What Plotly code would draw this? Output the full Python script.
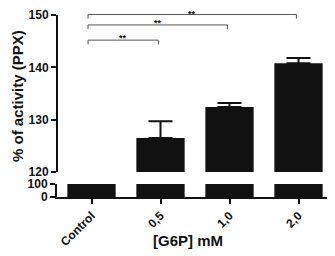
import plotly.graph_objects as go

categories = ["Control", "0,5", "1,0", "2,0"]
activity = [100, 126.5, 132.4, 140.8]
sem = [0, 3.2, 0.8, 1.0]
lower_ticks = [0, 100]
upper_ticks = [120, 130, 140, 150]
comparisons = [("Control", "0,5"), ("Control", "1,0"), ("Control", "2,0")]
bracket_levels = [145.2, 148.1, 150.1]
sig_labels = ["**", "**", "**"]

FONT = "Liberation Sans"
INK = "#111111"

# page has an 8px body margin; figure coordinates = page - 8
W, H = 327, 248
L, R, T, B = 49, 2, 0, 59
PH = H - T - B  # 189
PW = W - L - R  # 276
px_per_unit = 5.233
y2_bottom_px = 164  # figure px of value 120
y2_top = 120 + y2_bottom_px / px_per_unit

fig = go.Figure()
fig.add_trace(go.Bar(x=categories, y=activity, xaxis="x", yaxis="y",
                     marker=dict(color=INK, line=dict(width=0)), width=0.7,
                     showlegend=False))
fig.add_trace(go.Bar(x=categories, y=activity, xaxis="x", yaxis="y2",
                     marker=dict(color=INK, line=dict(width=0)), width=0.7,
                     error_y=dict(type="data", array=sem, arrayminus=[0]*len(sem),
                                  symmetric=False, color=INK, thickness=2, width=12),
                     showlegend=False))

shapes = []
annotations = []
shapes.append(dict(type="line", xref="paper", yref="y2", x0=0, x1=0,
                   y0=upper_ticks[0], y1=upper_ticks[-1],
                   line=dict(color=INK, width=2)))
idx = {c: i for i, c in enumerate(categories)}
n = len(comparisons)
for k, ((a, b), lvl, lab) in enumerate(zip(comparisons, bracket_levels, sig_labels)):
    xa, xb = idx[a] - 0.05, idx[b] - 0.03
    drop = 0.8
    shapes.append(dict(type="path", xref="x", yref="y2",
                       path=f"M {xa},{lvl-drop} L {xa},{lvl} L {xb},{lvl} L {xb},{lvl-drop}",
                       line=dict(color="#555555", width=1)))
    star_font = dict(family=FONT, size=9, color=INK, weight="bold")
    if k == n - 1:
        # topmost label: anchor to the top edge so it stays inside the figure
        annotations.append(dict(x=(xa + xb) / 2, y=y2_top, xref="x", yref="y2", text=lab,
                                showarrow=False, yanchor="top", borderpad=0,
                                font=star_font))
    else:
        annotations.append(dict(x=(xa + xb) / 2, y=lvl, xref="x", yref="y2", text=lab,
                                showarrow=False, yanchor="bottom", yshift=-5,
                                font=star_font))

annotations.append(dict(text="% of activity (PPX)", xref="paper", yref="paper",
                        x=(9 - L) / PW, y=(PH - 88) / PH, textangle=-90, showarrow=False,
                        xanchor="center", yanchor="middle",
                        font=dict(family=FONT, size=15, color=INK, weight="bold")))
annotations.append(dict(text="[G6P] mM", xref="paper", yref="paper",
                        x=(180 - L) / PW, y=(PH - 232) / PH, showarrow=False,
                        xanchor="center", yanchor="middle",
                        font=dict(family=FONT, size=15, color=INK, weight="bold")))

tickfont = dict(family=FONT, size=12, color=INK, weight="bold")
fig.update_layout(
    width=W, height=H,
    margin=dict(l=L, r=R, t=T, b=B, autoexpand=False),
    paper_bgcolor="white", plot_bgcolor="white",
    xaxis=dict(type="category", range=[-0.5, 3.5], anchor="y", automargin=False,
               showline=True, linecolor=INK, linewidth=2,
               ticks="outside", ticklen=5, tickwidth=2, tickcolor=INK,
               tickangle=-45, tickfont=dict(family=FONT, size=12, color=INK, weight="bold"),
               showgrid=False, zeroline=False),
    yaxis=dict(domain=[0, 13 / PH], range=[0, 100], tickvals=lower_ticks, automargin=False,
               showline=True, linecolor=INK, linewidth=2,
               ticks="outside", ticklen=5, tickwidth=2, tickcolor=INK,
               tickfont=tickfont, showgrid=False, zeroline=False, anchor="x"),
    yaxis2=dict(domain=[(PH - y2_bottom_px) / PH, 1],
                range=[120, y2_top], automargin=False,
                tickvals=upper_ticks, showline=False,
                ticks="outside", ticklen=5, tickwidth=2, tickcolor=INK,
                tickfont=tickfont, showgrid=False, zeroline=False, anchor="x"),
    shapes=shapes, annotations=annotations,
)

fig.write_html("out.html")
